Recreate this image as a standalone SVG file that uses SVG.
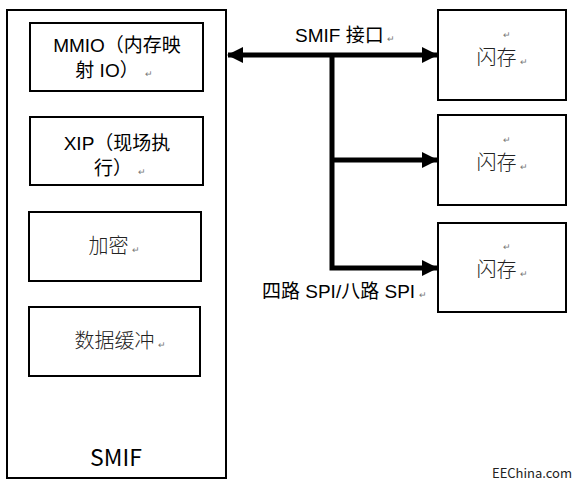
<svg xmlns="http://www.w3.org/2000/svg" width="574" height="486" viewBox="0 0 574 486">
<style>
.box{fill:#fff;stroke:#000;stroke-width:2}
.t{font-family:"Liberation Sans","Noto Sans CJK SC",sans-serif;fill:#000}
.c{font-family:"Noto Sans CJK SC","Liberation Sans",sans-serif;fill:#222;font-weight:300}
.pm{font-family:"Liberation Sans","Noto Sans CJK SC",sans-serif;fill:#777;font-size:9px}
.ln{stroke:#000;stroke-width:5;fill:none}
</style>
<defs>
<marker id="ah" markerUnits="userSpaceOnUse" viewBox="0 0 16 16" refX="15" refY="8" markerWidth="16" markerHeight="16" orient="auto-start-reverse">
<path d="M0,0 L16,8 L0,16 Z" fill="#000"/>
</marker>
</defs>
<rect width="574" height="486" fill="#fff"/>
<g id="smif">
<rect class="box" x="7" y="10" width="219" height="468"/>
<text class="c" x="116" y="466" font-size="23" text-anchor="middle" style="fill:#000;font-weight:400">SMIF</text>
</g>
<g id="mmio">
<rect class="box" x="30" y="23" width="173" height="68"/>
<text class="t" x="117" y="52" font-size="19" text-anchor="middle">MMIO（内存映</text>
<text class="t" x="114" y="77" font-size="19" text-anchor="middle">射 IO）<tspan class="pm" dx="6">↵</tspan></text>
</g>
<g id="xip">
<rect class="box" x="30" y="117" width="173" height="68"/>
<text class="t" x="117" y="150" font-size="19" text-anchor="middle">XIP（现场执</text>
<text class="t" x="120" y="175" font-size="19" text-anchor="middle">行）<tspan class="pm" dx="6">↵</tspan></text>
</g>
<g id="jiami">
<rect class="box" x="29" y="212" width="172" height="69"/>
<text class="c" x="114" y="253" font-size="20" text-anchor="middle">加密<tspan class="pm" dx="3">↵</tspan></text>
</g>
<g id="huanchong">
<rect class="box" x="29" y="307" width="171" height="69"/>
<text class="c" x="120" y="348" font-size="20" text-anchor="middle">数据缓冲<tspan class="pm" dx="3">↵</tspan></text>
</g>
<g id="flash1">
<rect class="box" x="438" y="10" width="128" height="90"/>
<text class="pm" x="507" y="38" text-anchor="middle">↵</text>
<text class="c" x="502" y="65" font-size="20" text-anchor="middle">闪存<tspan class="pm" dx="3">↵</tspan></text>
</g>
<g id="flash2">
<rect class="box" x="438" y="115" width="128" height="90"/>
<text class="pm" x="507" y="143" text-anchor="middle">↵</text>
<text class="c" x="502" y="170" font-size="20" text-anchor="middle">闪存<tspan class="pm" dx="3">↵</tspan></text>
</g>
<g id="flash3">
<rect class="box" x="438" y="223" width="128" height="89"/>
<text class="pm" x="507" y="250" text-anchor="middle">↵</text>
<text class="c" x="502" y="277" font-size="20" text-anchor="middle">闪存<tspan class="pm" dx="3">↵</tspan></text>
</g>
<g id="connectors">
<line class="ln" x1="228" y1="55" x2="437" y2="55" marker-start="url(#ah)" marker-end="url(#ah)"/>
<polyline class="ln" points="332,55 332,268 437,268" marker-end="url(#ah)"/>
<line class="ln" x1="332" y1="160" x2="437" y2="160" marker-end="url(#ah)"/>
</g>
<g id="labels">
<text class="t" x="295" y="42" font-size="19">SMIF 接口<tspan class="pm" dx="3">↵</tspan></text>
<text class="t" x="262" y="298" font-size="19">四路 SPI/八路 SPI<tspan class="pm" dx="4">↵</tspan></text>
<text class="c" x="492" y="478" font-size="13" style="font-weight:400">EEChina.com</text>
</g>
</svg>
